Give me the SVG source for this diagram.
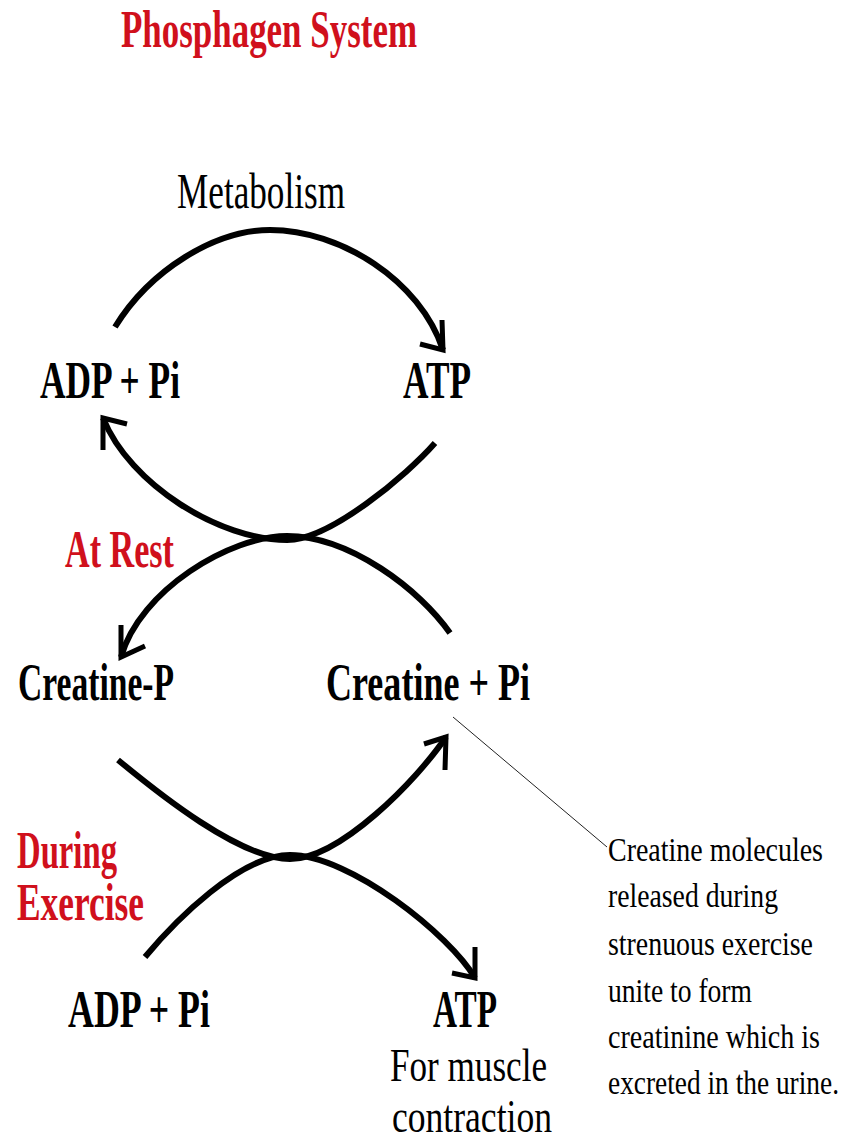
<svg xmlns="http://www.w3.org/2000/svg" width="846" height="1143" viewBox="0 0 846 1143">
  <style>
    .b { font-family: "Liberation Serif", "Times New Roman", serif; font-weight: bold; fill: #000; font-size: 34.5px; }
    .r { font-family: "Liberation Serif", "Times New Roman", serif; font-weight: normal; fill: #000; font-size: 35px; }
    .n { font-family: "Liberation Serif", "Times New Roman", serif; font-weight: normal; fill: #000; font-size: 28px; }
    .red { fill: #d0101c; }
    .arc { fill: none; stroke: #000; stroke-width: 6; stroke-linecap: butt; }
    .head { fill: none; stroke: #000; stroke-width: 5; stroke-linejoin: miter; stroke-linecap: butt; }
    .leader { fill: none; stroke: #222; stroke-width: 1; }
  </style>
  <rect x="0" y="0" width="846" height="1143" fill="#fff"/>

  <g id="title">
    <text class="b red" transform="translate(121,47) scale(1,1.5)" x="0" y="0" textLength="296" lengthAdjust="spacingAndGlyphs">Phosphagen System</text>
  </g>
  <g id="label-metabolism">
    <text class="r" transform="translate(177,208) scale(1,1.42)" x="0" y="0" textLength="168" lengthAdjust="spacingAndGlyphs">Metabolism</text>
  </g>
  <g id="node-adp-top">
    <text class="b" transform="translate(40,398) scale(1,1.5)" x="0" y="0" textLength="140" lengthAdjust="spacingAndGlyphs">ADP + Pi</text>
  </g>
  <g id="node-atp-top">
    <text class="b" transform="translate(403,398) scale(1,1.5)" x="0" y="0" textLength="68" lengthAdjust="spacingAndGlyphs">ATP</text>
  </g>
  <g id="label-at-rest">
    <text class="b red" transform="translate(65,567) scale(1,1.5)" x="0" y="0" textLength="109" lengthAdjust="spacingAndGlyphs">At Rest</text>
  </g>
  <g id="node-creatine-p">
    <text class="b" transform="translate(18,700) scale(1,1.5)" x="0" y="0" textLength="156" lengthAdjust="spacingAndGlyphs">Creatine-P</text>
  </g>
  <g id="node-creatine-pi">
    <text class="b" transform="translate(326,700) scale(1,1.5)" x="0" y="0" textLength="204" lengthAdjust="spacingAndGlyphs">Creatine + Pi</text>
  </g>
  <g id="label-during-exercise">
    <text class="b red" transform="translate(17,868) scale(1,1.5)" x="0" y="0" textLength="100" lengthAdjust="spacingAndGlyphs">During</text>
    <text class="b red" transform="translate(17,920) scale(1,1.5)" x="0" y="0" textLength="127" lengthAdjust="spacingAndGlyphs">Exercise</text>
  </g>
  <g id="node-adp-bottom">
    <text class="b" transform="translate(68,1027) scale(1,1.5)" x="0" y="0" textLength="142" lengthAdjust="spacingAndGlyphs">ADP + Pi</text>
  </g>
  <g id="node-atp-bottom">
    <text class="b" transform="translate(433,1027) scale(1,1.5)" x="0" y="0" textLength="64" lengthAdjust="spacingAndGlyphs">ATP</text>
    <text class="r" transform="translate(390,1081) scale(1,1.31)" x="0" y="0" textLength="157" lengthAdjust="spacingAndGlyphs">For muscle</text>
    <text class="r" transform="translate(392,1132) scale(1,1.31)" x="0" y="0" textLength="160" lengthAdjust="spacingAndGlyphs">contraction</text>
  </g>
  <g id="note-creatinine">
    <text class="n" transform="translate(608,861) scale(1,1.18)" x="0" y="0" textLength="215" lengthAdjust="spacingAndGlyphs">Creatine molecules</text>
    <text class="n" transform="translate(608,907) scale(1,1.18)" x="0" y="0" textLength="170" lengthAdjust="spacingAndGlyphs">released during</text>
    <text class="n" transform="translate(608,955) scale(1,1.18)" x="0" y="0" textLength="205" lengthAdjust="spacingAndGlyphs">strenuous exercise</text>
    <text class="n" transform="translate(608,1002) scale(1,1.18)" x="0" y="0" textLength="144" lengthAdjust="spacingAndGlyphs">unite to form</text>
    <text class="n" transform="translate(608,1048) scale(1,1.18)" x="0" y="0" textLength="212" lengthAdjust="spacingAndGlyphs">creatinine which is</text>
    <text class="n" transform="translate(608,1094) scale(1,1.18)" x="0" y="0" textLength="231" lengthAdjust="spacingAndGlyphs">excreted in the urine.</text>
  </g>

  <g id="connectors">
    <!-- Metabolism: ADP + Pi -> ATP -->
    <path class="arc" d="M115,327 C150,270 215,230 270,230 C340,230 420,280 443,350"/>
    <path class="head" d="M420,344 L443,350 L442,320"/>
    <!-- At rest: ATP -> ADP + Pi -->
    <path class="arc" d="M435,443 C407,475 330,540 287,540 C220,540 130,485 103,418"/>
    <path class="head" d="M103,450 L103,418 L127,424"/>
    <!-- At rest: Creatine + Pi -> Creatine-P -->
    <path class="arc" d="M450,633 C420,590 350,536 287,536 C230,536 140,590 121,657"/>
    <path class="head" d="M121,625 L121,657 L145,646"/>
    <!-- During exercise: Creatine-P -> Creatine + Pi -->
    <path class="arc" d="M118,760 C158,793 240,859 290,859 C340,859 417,780 446,737"/>
    <path class="head" d="M424,744 L446,737 L445,770"/>
    <!-- During exercise: ADP + Pi -> ATP -->
    <path class="arc" d="M145,957 C175,921 240,855 290,855 C350,855 450,935 475,978"/>
    <path class="head" d="M475,947 L475,978 L452,973"/>
    <!-- leader to note -->
    <path class="leader" d="M453,717 L607,847"/>
  </g>
</svg>
